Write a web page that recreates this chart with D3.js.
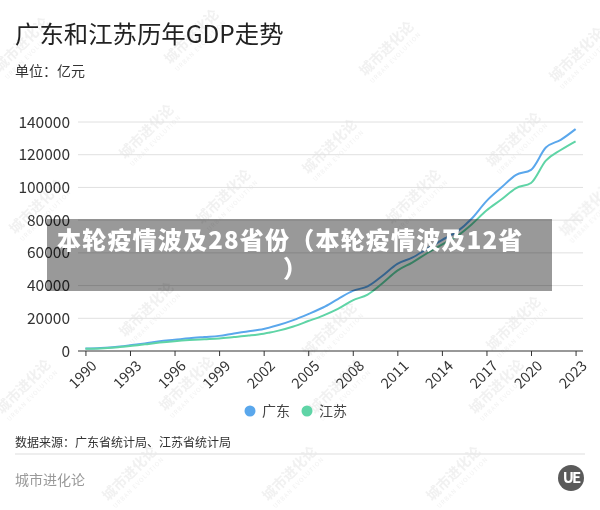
<!DOCTYPE html>
<html><head><meta charset="utf-8">
<script src="https://cdn.jsdelivr.net/npm/d3@7/dist/d3.min.js"></script>
<style>body{margin:0;background:#fff}svg{display:block;font-family:"Noto Sans CJK SC","Noto Sans",sans-serif}</style>
</head><body><svg id="c" width="600" height="510"></svg>
<script>
const years = d3.range(1990, 2024);
const guangdong = [1559,1893,2448,3469,4619,5934,6835,7775,8531,9250,10741,12039,13502,15845,18865,22558,26588,31777,36797,39483,46013,53210,57068,62475,67810,72813,80855,91649,99945,107671,110761,124370,129119,135673];
const jiangsu = [1417,1601,2136,2998,4057,5155,6004,6680,7200,7698,8554,9457,10607,12443,15004,18306,21645,25741,30982,34457,41425,49110,54058,59753,65088,70116,77388,85870,92595,99632,102719,116364,122876,128222];
const xTicks = [1990,1993,1996,1999,2002,2005,2008,2011,2014,2017,2020,2023];
const yTicks = [0,20000,40000,60000,80000,100000,120000,140000];
const seriesNames = ["广东","江苏"];
const colors = ["#5aa7ec","#5fd4a6"];
const watermarks = [[25,48],[195,40],[390,52],[580,58],[150,135],[333,150],[517,143],[40,210],[227,200],[417,200],[590,212],[150,313],[333,333],[517,327],[27,390],[190,387],[340,390],[500,390],[133,477],[293,477],[457,477]];

const svg = d3.select("#c");
const x = d3.scaleLinear().domain([1989.5, 2023.5]).range([78, 583]);
const y = d3.scaleLinear().domain([0, 140000]).range([351, 122]);

// watermarks
const wm = svg.append("g").attr("opacity", 0.5);
watermarks.forEach(([wx, wy]) => {
  const g = wm.append("g").attr("transform", `translate(${wx},${wy}) rotate(-45)`);
  g.append("text").attr("text-anchor","middle").attr("font-size",14).attr("font-weight","bold").attr("fill","#e3e3e3").text("城市进化论");
  g.append("text").attr("text-anchor","middle").attr("y",10).attr("font-size",6).attr("fill","#e3e3e3").attr("letter-spacing",1).text("URBAN EVOLUTION");
});

// title
svg.append("text").attr("x",15).attr("y",43).attr("font-size",24.4).attr("fill","#222").text("广东和江苏历年GDP走势");
svg.append("text").attr("x",15).attr("y",76).attr("font-size",14).attr("fill","#333").text("单位：亿元");

// grid
svg.append("g").selectAll("line").data(yTicks.filter(d=>d>0)).join("line")
  .attr("x1",78).attr("x2",583).attr("y1",d=>y(d)).attr("y2",d=>y(d))
  .attr("stroke","#e0e0e0").attr("stroke-width",1);

// y labels
svg.append("g").selectAll("text").data(yTicks).join("text")
  .attr("x",70).attr("y",d=>y(d)).attr("dy","0.36em").attr("text-anchor","end")
  .attr("font-size",15.5).attr("fill","#333").text(d=>d);

// x axis
const xAxis = svg.append("g").attr("transform","translate(0,351)")
  .call(d3.axisBottom(x).tickValues(xTicks).tickSize(5).tickFormat(d3.format("d")));
xAxis.select(".domain").attr("stroke","#333");
xAxis.selectAll(".tick line").attr("stroke","#333");
xAxis.selectAll(".tick text").attr("font-size",14.5).attr("fill","#333")
  .attr("font-family",'"Noto Sans CJK SC","Noto Sans",sans-serif')
  .attr("text-anchor","end").attr("transform","translate(5,6) rotate(-45)").attr("dy","0.6em").attr("y",3).attr("x",-2);
xAxis.select(".domain").attr("d","M78,0H583");

// lines
const line = d3.line().x((d,i)=>x(years[i])).y(d=>y(d)).curve(d3.curveMonotoneX);
[guangdong, jiangsu].forEach((s,k)=>{
  svg.append("path").attr("d", line(s)).attr("fill","none").attr("stroke",colors[k]).attr("stroke-width",2);
});

// legend
const lg = svg.append("g");
[[250,262],[307,319]].forEach(([cx,tx],k)=>{
  lg.append("circle").attr("cx",cx).attr("cy",411).attr("r",5.5).attr("fill",colors[k]);
  lg.append("text").attr("x",tx).attr("y",411).attr("dy","0.36em").attr("font-size",14).attr("fill","#444").text(seriesNames[k]);
});

// source
svg.append("text").attr("x",15).attr("y",447).attr("font-size",12).attr("fill","#333").text("数据来源：广东省统计局、江苏省统计局");
svg.append("line").attr("x1",15).attr("x2",585).attr("y1",454).attr("y2",454).attr("stroke","#e8e8e8").attr("stroke-width",1.5);
svg.append("text").attr("x",15).attr("y",485).attr("font-size",14).attr("fill","#999").text("城市进化论");

// logo
svg.append("circle").attr("cx",571).attr("cy",478).attr("r",13).attr("fill","#5a5a5a");
svg.append("text").attr("x",571).attr("y",478).attr("dy","0.36em").attr("text-anchor","middle").attr("font-size",15).attr("font-weight","bold").attr("fill","#fff").attr("letter-spacing",-2).text("UE");

// overlay band
svg.append("rect").attr("x",47).attr("y",219).attr("width",505).attr("height",72).attr("fill","rgba(0,0,0,0.4)");
svg.append("text").attr("x",57).attr("y",240).attr("dy","0.36em").attr("font-size",24).attr("font-weight",900).attr("fill","#fff").attr("letter-spacing",1.2).text("本轮疫情波及28省份（本轮疫情波及12省");
svg.append("text").attr("x",283).attr("y",268).attr("dy","0.36em").attr("font-size",24).attr("font-weight",900).attr("fill","#fff").text("）");
</script></body></html>
